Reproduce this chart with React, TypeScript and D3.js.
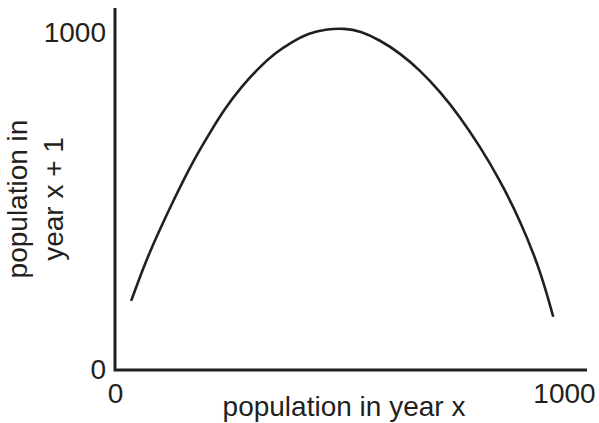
import React, { useEffect, useRef } from 'react';
import * as d3 from 'd3';

// population in year x
const popX = [36, 67, 96, 134, 171, 208, 245, 282, 319, 356, 394, 431, 468, 512, 546, 590, 635, 679, 724, 768, 813, 857, 902, 947, 976];
// population in year x + 1
const popNext = [205, 318, 406, 514, 613, 697, 777, 841, 895, 940, 974, 999, 1011, 1014, 1006, 979, 940, 890, 826, 752, 663, 564, 445, 297, 158];

const xTicks = [0, 1000];
const yTicks = [0, 1000];
const yTitleLines = ['population in', 'year x + 1'];
const xTitle = 'population in year x';

const W = 599;
const H = 423;
const INK = '#231f20';
const FONT = '"Liberation Sans", Arial, Helvetica, sans-serif';

const App = () => {
  const svgRef = useRef<SVGSVGElement>(null);

  useEffect(() => {
    const svg = d3.select(svgRef.current);
    svg.selectAll('*').remove();

    const x = d3.scaleLinear().domain([0, 1000]).range([115, 564]);
    const y = d3.scaleLinear().domain([0, 1000]).range([370, 33]);

    // axis lines, extend past the 1000 ticks
    const xEnd = x.invert(587);
    const yEnd = y.invert(8);
    svg.append('path')
      .attr('d', d3.line()([[x(0), y(yEnd)], [x(0), y(0)], [x(xEnd), y(0)]]))
      .attr('fill', 'none')
      .attr('stroke', INK)
      .attr('stroke-width', 3);

    // ticks (labels only)
    const gx = svg.append('g')
      .attr('transform', `translate(0, ${y(0)})`)
      .call(d3.axisBottom(x).tickValues(xTicks).tickSize(0).tickPadding(13).tickFormat(d3.format('d')));
    const gy = svg.append('g')
      .attr('transform', `translate(${x(0)}, 0)`)
      .call(d3.axisLeft(y).tickValues(yTicks).tickSize(0).tickPadding(9).tickFormat(d3.format('d')));
    [gx, gy].forEach(g => {
      g.select('.domain').remove();
      g.selectAll('text')
        .attr('fill', INK)
        .style('font-family', FONT)
        .style('font-size', '28px');
    });

    // the curve
    const pts: [number, number][] = popX.map((v, i) => [x(v), y(popNext[i])]);
    svg.append('path')
      .attr('d', d3.line().curve(d3.curveBasis)(pts))
      .attr('fill', 'none')
      .attr('stroke', INK)
      .attr('stroke-width', 2.6);

    // axis titles
    svg.append('text')
      .attr('x', 344)
      .attr('y', 416)
      .attr('text-anchor', 'middle')
      .attr('fill', INK)
      .style('font-family', FONT)
      .style('font-size', '28px')
      .text(xTitle);

    const yt = svg.append('text')
      .attr('transform', 'rotate(-90)')
      .attr('text-anchor', 'middle')
      .attr('fill', INK)
      .style('font-family', FONT)
      .style('font-size', '28px');
    yTitleLines.forEach((line, i) => {
      yt.append('tspan')
        .attr('x', -199)
        .attr('y', 27 + i * 36)
        .text(line);
    });
  }, []);

  return (
    <svg
      ref={svgRef}
      width={W}
      height={H}
      style={{ position: 'absolute', left: 0, top: 0, background: '#fff' }}
    />
  );
};

export default App;
